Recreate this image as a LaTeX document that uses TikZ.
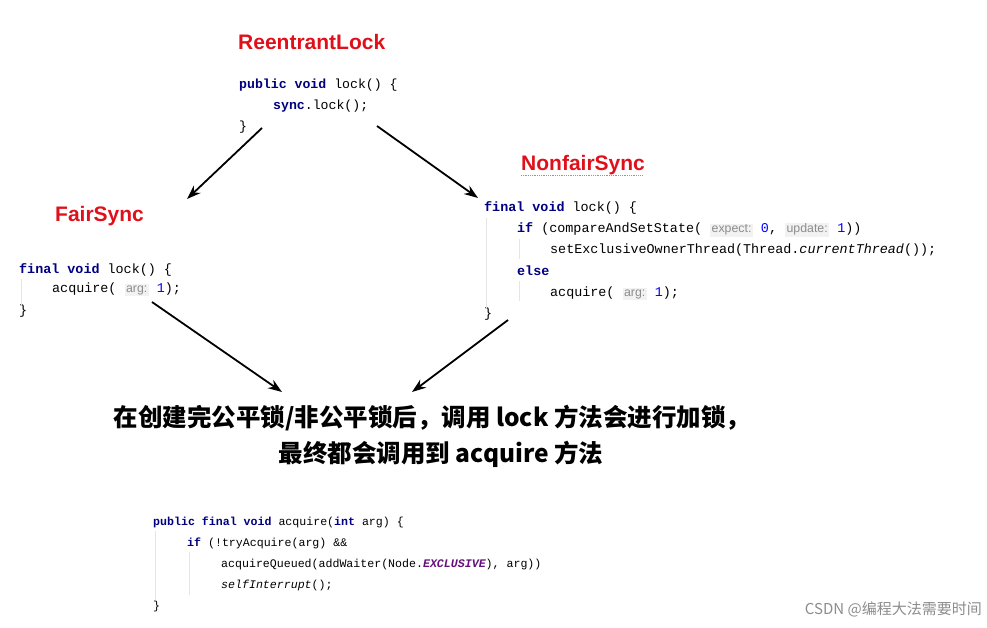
\documentclass[tikz,border=0pt]{standalone}
\usetikzlibrary{arrows.meta}
\usepackage{fontspec}
\setmainfont{Liberation Sans}
\setmonofont{Liberation Mono}
\newfontfamily\cjk{Noto Sans CJK SC}
\definecolor{kwc}{HTML}{000080}
\definecolor{numc}{HTML}{0000FF}
\definecolor{redc}{HTML}{E0101A}
\definecolor{purp}{HTML}{660E7A}
\setlength{\fboxsep}{1.5pt}
\newcommand{\kw}[1]{\textbf{\color{kwc}#1}}
\newcommand{\nm}[1]{{\color{numc}#1}}
\newcommand{\hint}[1]{\colorbox{black!5}{\rmfamily\color{black!45}\fontsize{0.92em}{1em}\selectfont #1}}
\begin{document}
\begin{tikzpicture}[x=1pt,y=-1pt,
  code/.style={anchor=base west,inner sep=0pt,font=\ttfamily\fontsize{13.4}{14}\selectfont},
  codes/.style={code,font=\ttfamily\fontsize{13.2}{14}\selectfont},
  codeb/.style={code,font=\ttfamily\fontsize{11.6}{13}\selectfont},
  ttl/.style={anchor=base west,inner sep=0pt,font=\bfseries\fontsize{21}{24}\selectfont,text=redc},
  arr/.style={-{Stealth[length=14pt,width=10pt]},line width=1.8pt},
  guide/.style={black!10,line width=0.6pt}]
\useasboundingbox (0,0) rectangle (987,628);
% top
\node[ttl] (rl) at (238,50) {ReentrantLock};
\node[codes] (t1) at (239,89) {\kw{public void} lock() \{};
\node[codes] (t2) at (273,110) {\kw{sync}.lock();};
\node[codes] (t3) at (239,131) {\}};
\coordinate (a1s) at (262,128); \coordinate (a1e) at (187,199);
\coordinate (a2s) at (377,126); \coordinate (a2e) at (478,198);
\draw[arr] (a1s) -- (a1e);
\draw[arr] (a2s) -- (a2e);
% nonfair
\node[ttl] (nf) at (521,171) {NonfairSync};
\draw[redc!60,densely dotted,line width=0.8pt] (nf.base west)++(0,4) -- ++(122,0);
\node[code] (n1) at (484,212) {\kw{final void} lock() \{};
\node[code] (n2) at (517,233) {\kw{if} (compareAndSetState( \hint{expect:} \nm{0}, \hint{update:} \nm{1}))};
\node[code] (n3) at (550,254) {setExclusiveOwnerThread(Thread.\textit{currentThread}());};
\node[code] (n4) at (517,275) {\kw{else}};
\node[code] (n5) at (550,296) {acquire( \hint{arg:} \nm{1});};
\node[code] (n6) at (484,317) {\}};
\draw[guide] (486,218) -- (486,308);
\draw[guide] (519,239) -- (519,259);
\draw[guide] (519,281) -- (519,301);
% fair
\node[ttl] (fs) at (55,222) {FairSync};
\node[code] (f1) at (19,273) {\kw{final void} lock() \{};
\node[code] (f2) at (52,292) {acquire( \hint{arg:} \nm{1});};
\node[code] (f3) at (19,314) {\}};
\draw[guide] (21,279) -- (21,305);
\coordinate (a3s) at (152,302); \coordinate (a3e) at (282,392);
\coordinate (a4s) at (508,320); \coordinate (a4e) at (412,392);
\draw[arr] (a3s) -- (a3e);
\draw[arr] (a4s) -- (a4e);
% chinese
\node[inner sep=0pt,font=\cjk\bfseries\fontsize{24.5}{28}\selectfont] (c1) at (432,418) {在创建完公平锁/非公平锁后，调用 lock 方法会进行加锁，};
\node[inner sep=0pt,font=\cjk\bfseries\fontsize{24.5}{28}\selectfont] (c2) at (441,454) {最终都会调用到 acquire 方法};
% bottom
\node[codeb] (b1) at (153,525) {\kw{public final void} acquire(\kw{int} arg) \{};
\node[codeb] (b2) at (187,546) {\kw{if} (!tryAcquire(arg) \&\&};
\node[codeb] (b3) at (221,567) {acquireQueued(addWaiter(Node.\textbf{\textit{\color{purp}EXCLUSIVE}}), arg))};
\node[codeb] (b4) at (221,588) {\textit{selfInterrupt}();};
\node[codeb] (b5) at (153,609) {\}};
\draw[guide] (155,531) -- (155,600);
\draw[guide] (189,552) -- (189,595);
\node[anchor=base east,inner sep=0pt,text=black!45,font=\cjk\fontsize{15}{17}\selectfont] (wm) at (982,614) {CSDN @编程大法需要时间};
\end{tikzpicture}
\end{document}
